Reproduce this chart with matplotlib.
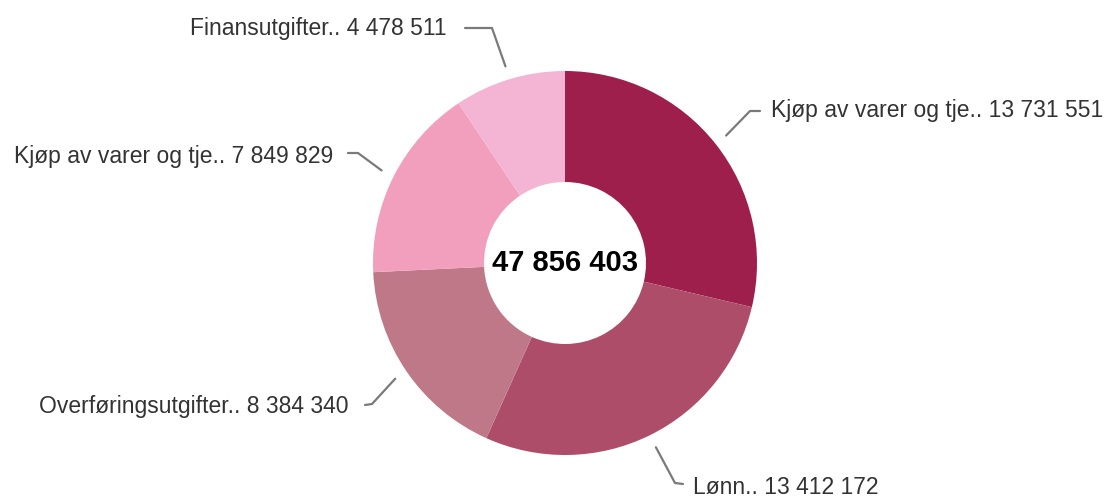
import matplotlib
matplotlib.use("Agg")
import matplotlib.pyplot as plt
import numpy as np

plt.rcParams["font.family"] = ["Liberation Sans", "DejaVu Sans"]

# data (clockwise from 12 o'clock)
labels = [
    "Kjøp av varer og tje..",
    "Lønn..",
    "Overføringsutgifter..",
    "Kjøp av varer og tje..",
    "Finansutgifter..",
]
values = [13731551, 13412172, 8384340, 7849829, 4478511]
colors = ["#9e1f4c", "#ae4d69", "#bf7888", "#f29fbe", "#f4b4d3"]

W, H = 1109, 500
CX, CY, R = 565, 263, 192  # pie centre / radius in pixels


def px(x, y):
    """pixel position (origin top-left) -> data coords of the pie axes"""
    return (x - CX) / R, (CY - y) / R


def fmt(v):
    return f"{v:,}".replace(",", " ")


# elbow, end of leader line, text anchor (pixels) and alignment per slice
leader_layout = [
    ((750, 111), (760, 111), (771, 110), "left"),
    ((675, 483), (683, 484), (693, 488), "left"),
    ((372, 404), (365, 405), (348, 407), "right"),
    ((358, 153), (348, 153), (333, 156), "right"),
    ((492, 28), (465, 28), (447, 28), "right"),
]

fig = plt.figure(figsize=(W / 100, H / 100), dpi=100)
ax = fig.add_axes([0, 0, 1, 1])

wedges, _ = ax.pie(
    values, colors=colors, startangle=90, counterclock=False,
    radius=1.0, wedgeprops=dict(width=(R - 81) / R, linewidth=0),
)

for w, lab, val, (elbow, end, txt, ha) in zip(wedges, labels, values, leader_layout):
    mid = np.deg2rad((w.theta1 + w.theta2) / 2)
    start = (1.07 * np.cos(mid), 1.07 * np.sin(mid))
    pts = [start, px(*elbow), px(*end)]
    ax.plot([p[0] for p in pts], [p[1] for p in pts], color="#7a7a7a",
            lw=1.6, solid_capstyle="round")
    tx, ty = px(*txt)
    ax.text(tx, ty, f"{lab} {fmt(val)}", ha=ha, va="center",
            fontsize=16.5, color="#333333")

ax.text(0, 0, fmt(sum(values)), ha="center", va="center",
        fontsize=21, fontweight="bold", color="black")

# pie() resets the limits, so set the pixel-mapped frame afterwards
ax.set_xlim(px(0, 0)[0], px(W, 0)[0])
ax.set_ylim(px(0, H)[1], px(0, 0)[1])
ax.set_aspect("equal")
ax.axis("off")

fig.savefig("out.png", dpi=100)
